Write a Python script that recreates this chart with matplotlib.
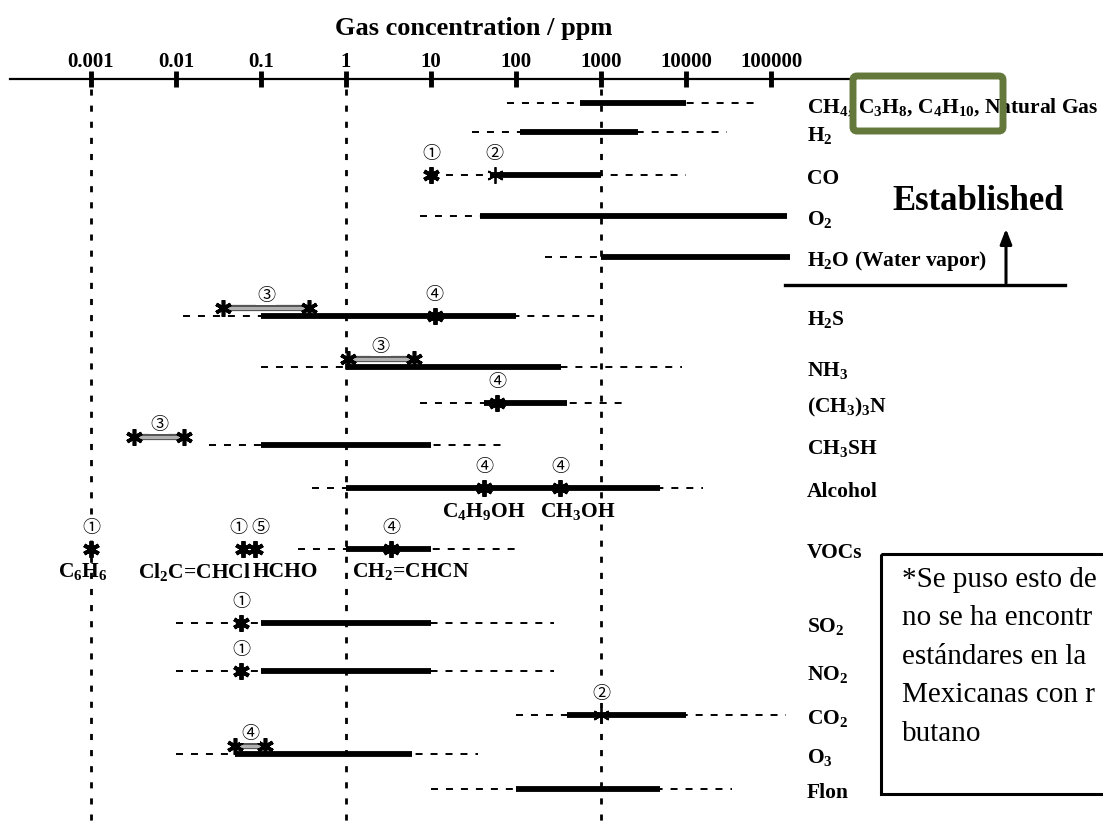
import matplotlib
matplotlib.use("Agg")
import matplotlib.pyplot as plt
from matplotlib.patches import Rectangle, FancyBboxPatch
from matplotlib.transforms import Affine2D

plt.rcParams.update({
    "font.family": "Liberation Serif",
    "font.weight": "bold",
    "mathtext.fontset": "custom",
    "mathtext.rm": "Liberation Serif:bold",
    "mathtext.it": "Liberation Serif:bold",
    "mathtext.bf": "Liberation Serif:bold",
    "mathtext.default": "rm",
})

# ---------------------------------------------------------------- data
gases = ["CH$_4$, C$_3$H$_8$, C$_4$H$_{10}$,$\\;$Natural Gas", "H$_2$", "CO", "O$_2$",
         "H$_2$O (Water vapor)", "H$_2$S", "NH$_3$", "(CH$_3$)$_3$N", "CH$_3$SH",
         "Alcohol", "VOCs", "SO$_2$", "NO$_2$", "CO$_2$", "O$_3$", "Flon"]
dash_lo = [78, 30, 10, 7.5, 220, 0.012, 0.1, 7.4, 0.0245, 0.4, 0.27, 0.01, 0.01, 100, 0.01, 10]
dash_hi = [76000, 30000, 10000, 155000, 167000, 1000, 9000, 2000, 80, 16000, 110, 280, 280, 150000, 36, 35000]
solid_lo = [570, 110, 50, 38, 1000, 0.1, 1, 42, 0.1, 1, 1, 0.1, 0.1, 400, 0.05, 100]
solid_hi = [10000, 2700, 1000, 155000, 167000, 100, 340, 400, 10, 5000, 10, 10, 10, 10000, 6, 5000]

# single sensor marks (row index, ppm, reference number, compound)
mark_row = [2, 2, 5, 7, 9, 9, 10, 10, 10, 10, 11, 12, 13]
mark_ppm = [10, 56, 11, 60, 42, 330, 0.001, 0.061, 0.085, 3.4, 0.058, 0.058, 1000]
mark_num = ["①", "②", "④", "④", "④", "④", "①", "①", "⑤", "④", "①", "①", "②"]
mark_sub = ["", "", "", "", "C$_4$H$_9$OH", "CH$_3$OH", "C$_6$H$_6$", "Cl$_2$C=CHCl", "HCHO",
            "CH$_2$=CHCN", "", "", ""]

# paired marks joined by a grey bar
pair_row = [5, 6, 8, 14]
pair_lo = [0.036, 1.05, 0.0032, 0.05]
pair_hi = [0.37, 6.3, 0.0124, 0.11]
pair_num = ["③", "③", "③", "④"]

decades = [1e-3, 1e-2, 1e-1, 1, 10, 100, 1000, 1e4, 1e5]
decade_labels = ["0.001", "0.01", "0.1", "1", "10", "100", "1000", "10000", "100000"]

note_lines = ["*Se puso esto de", "no se ha encontr", "estándares en la", "Mexicanas con r", "butano"]

# ---------------------------------------------------------------- layout
row_y = [104, 133, 176, 217, 258, 317, 368, 404, 446, 489, 550, 624, 672, 716, 755, 790]
mark_thin = [False, True, False, False, False, False, False, False, False, False, False, False, True]
num_dx = [0, 0, 0, 0, 0, 0, 0, -4, 5, 0, 0, 0, 0]
sub_dx = [0, 0, 0, 0, 0, 18, -8, 8, -2, 20, 0, 0, 0]
sub_ha = ["center"] * 6 + ["center", "right", "left", "center"] + ["center"] * 3
num_font = ["Noto Sans CJK JP", "DejaVu Sans"]
num_box = dict(boxstyle="square,pad=0.05", fc="white", ec="none")

fig = plt.figure(figsize=(11.03, 8.29), dpi=100)
ax = fig.add_axes([0, 0, 1, 1])
ax.set_xscale("log")
ax.set_xlim(10 ** (-346 / 85), 10 ** ((1103 - 346) / 85))
ax.set_ylim(829, 0)
ax.axis("off")
# pixel transform (origin top-left) for annotation items
px = Affine2D().scale(1 / 1103, -1 / 829).translate(0, 1) + fig.transFigure

# axis on top
ax.plot([1.1e-4, 9.2e5], [80, 80], color="black", lw=1.6)
ax.vlines(decades, 72, 88, color="black", lw=3.5)
for d, lab in zip(decades, decade_labels):
    ax.text(d, 62, lab, ha="center", va="center", fontsize=15)
ax.text(474, 28, "Gas concentration / ppm", transform=px, ha="center", va="center", fontsize=19)

ax.vlines([1e-3, 1, 1e3], 90, 829, color="black", lw=2, linestyles=[(0, (2.2, 3.6))])

for i, g in enumerate(gases):
    y = row_y[i]
    ax.plot([dash_lo[i], dash_hi[i]], [y, y], color="black", lw=1.4, ls=(0, (3.6, 4.1)))
    ax.plot([solid_lo[i], solid_hi[i]], [y, y], color="black", lw=4.2, solid_capstyle="butt")
    ax.text(807, y + 3, g, transform=px, ha="left", va="center", fontsize=15.5)

for r, lo, hi, n in zip(pair_row, pair_lo, pair_hi, pair_num):
    y = row_y[r] - 8
    ax.plot([lo, hi], [y, y], color="#555555", lw=4.5, solid_capstyle="butt")
    ax.plot([lo, hi], [y, y], color="#b0b0b0", lw=2.2, solid_capstyle="butt")
    ax.plot([lo, hi], [y, y], ls="none", marker=(6, 2, 0), ms=12, mew=2.6, color="black")
    ax.text((lo * hi) ** 0.5, row_y[r] - 21, n, ha="center", va="center", fontsize=13,
            family=num_font, fontweight="normal", bbox=num_box)

for k in range(len(mark_row)):
    y = row_y[mark_row[k]]
    ax.plot(mark_ppm[k], y, ls="none", marker=(6, 2, 0), ms=12,
            mew=1.3 if mark_thin[k] else 2.8, color="black", zorder=4)
    ax.annotate(mark_num[k], (mark_ppm[k], y - 22), xytext=(num_dx[k] * 0.72, 0),
                textcoords="offset points", ha="center", va="center", fontsize=13,
                family=num_font, fontweight="normal", bbox=num_box, zorder=4)
    if mark_sub[k]:
        ax.annotate(mark_sub[k], (mark_ppm[k], y + 22), xytext=(sub_dx[k] * 0.72, 0),
                    textcoords="offset points", ha=sub_ha[k], va="center", fontsize=15.5)

# green highlight box
ax.add_patch(FancyBboxPatch((853, 77), 150, 55, boxstyle="round,pad=0,rounding_size=4",
                            transform=px, fill=False, edgecolor="#63783a", lw=5, zorder=5))

# established marker
ax.text(978, 202, "Established", transform=px, ha="center", va="center", fontsize=25)
ax.plot([785, 1065], [286, 286], transform=px, color="black", lw=2.4)
ax.annotate("", xy=(1006, 227), xytext=(1006, 287), xycoords=px, textcoords=px,
            arrowprops=dict(arrowstyle="-|>,head_length=0.9,head_width=0.35", color="black", lw=2.2))

# note box
ax.add_patch(Rectangle((881, 555), 260, 240, transform=px, fill=False, edgecolor="black",
                       lw=2.2, clip_on=False))
for j, line in enumerate(note_lines):
    ax.text(902, 580 + j * 38.5, line, transform=px, ha="left", va="center", fontsize=21,
            fontweight="normal")

fig.savefig("out.png", dpi=100)
